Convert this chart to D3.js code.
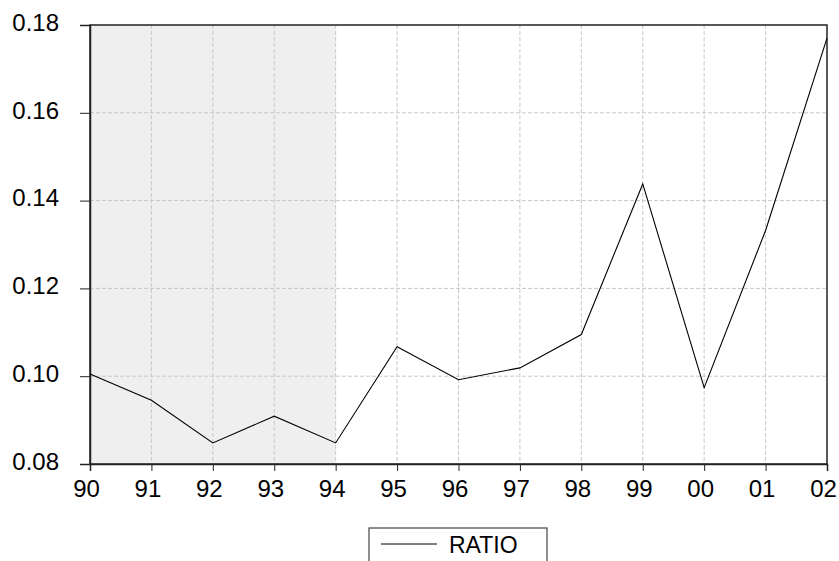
<!DOCTYPE html>
<html>
<head>
<meta charset="utf-8">
<script src="https://cdn.jsdelivr.net/npm/d3@7"></script>
<style>
  html, body { margin: 0; padding: 0; background: #fff; }
  svg { display: block; font-family: "Liberation Sans", Arial, sans-serif; }
</style>
</head>
<body>
<svg id="chart" width="839" height="561"></svg>
<script>
const years = ["90","91","92","93","94","95","96","97","98","99","00","01","02"];
const ratio = [0.1005, 0.0945, 0.0848, 0.0909, 0.0848, 0.1067, 0.0992, 0.1019, 0.1095, 0.1438, 0.0974, 0.1332, 0.1770];
const yTicks = [0.08, 0.10, 0.12, 0.14, 0.16, 0.18];
const shadeStart = "90", shadeEnd = "94";
const seriesName = "RATIO";

const svg = d3.select("#chart");
const m = { left: 90, right: 827, top: 25, bottom: 464 };

const x = d3.scalePoint().domain(years).range([m.left, m.right]);
const y = d3.scaleLinear().domain([0.08, 0.18]).range([m.bottom, m.top]);

// shaded region
svg.append("rect")
  .attr("x", x(shadeStart)).attr("y", m.top)
  .attr("width", x(shadeEnd) - x(shadeStart))
  .attr("height", m.bottom - m.top)
  .attr("fill", "#efefef");

// gridlines
svg.append("g").selectAll("line").data(years.slice(1, -1)).join("line")
  .attr("x1", d => x(d)).attr("x2", d => x(d))
  .attr("y1", m.top).attr("y2", m.bottom)
  .attr("stroke", "#c8c8c8").attr("stroke-width", 1).attr("stroke-dasharray", "4,2");
svg.append("g").selectAll("line").data(yTicks.slice(1, -1)).join("line")
  .attr("x1", m.left).attr("x2", m.right)
  .attr("y1", d => y(d)).attr("y2", d => y(d))
  .attr("stroke", "#c8c8c8").attr("stroke-width", 1).attr("stroke-dasharray", "4,2");

// frame
svg.append("rect")
  .attr("x", m.left).attr("y", m.top)
  .attr("width", m.right - m.left).attr("height", m.bottom - m.top)
  .attr("fill", "none").attr("stroke", "#222").attr("stroke-width", 1.5);

// y axis
const yAxis = d3.axisLeft(y).tickValues(yTicks).tickFormat(d3.format(".2f")).tickSize(10).tickPadding(21);
const gy = svg.append("g").attr("transform", `translate(${m.left},0)`).call(yAxis);
gy.select(".domain").attr("stroke", "#222").attr("stroke-width", 1.5);
gy.selectAll(".tick line").attr("stroke", "#222");
gy.selectAll(".tick text").attr("font-size", 24).attr("fill", "#000")
  .attr("font-family", "Liberation Sans, Arial, sans-serif").attr("dy", "0.22em");

// x axis
const xAxis = d3.axisBottom(x).tickSize(7).tickPadding(9);
const gx = svg.append("g").attr("transform", `translate(0,${m.bottom})`).call(xAxis);
gx.select(".domain").attr("stroke", "#222").attr("stroke-width", 1.5);
gx.selectAll(".tick line").attr("stroke", "#222");
gx.selectAll(".tick text").attr("font-size", 24).attr("fill", "#000")
  .attr("font-family", "Liberation Sans, Arial, sans-serif").attr("dx", -4);

// line
const line = d3.line().x((d, i) => x(years[i])).y(d => y(d));
svg.append("path").datum(ratio)
  .attr("d", line).attr("fill", "none").attr("stroke", "#000").attr("stroke-width", 1.1);

// legend
const lg = svg.append("g");
lg.append("rect").attr("x", 369).attr("y", 528).attr("width", 178).attr("height", 45)
  .attr("fill", "#fff").attr("stroke", "#444").attr("stroke-width", 1.2);
lg.append("line").attr("x1", 381).attr("x2", 437).attr("y1", 544).attr("y2", 544)
  .attr("stroke", "#000").attr("stroke-width", 1);
lg.append("text").attr("x", 449).attr("y", 553).attr("font-size", 23).attr("fill", "#000")
  .text(seriesName);
</script>
</body>
</html>
